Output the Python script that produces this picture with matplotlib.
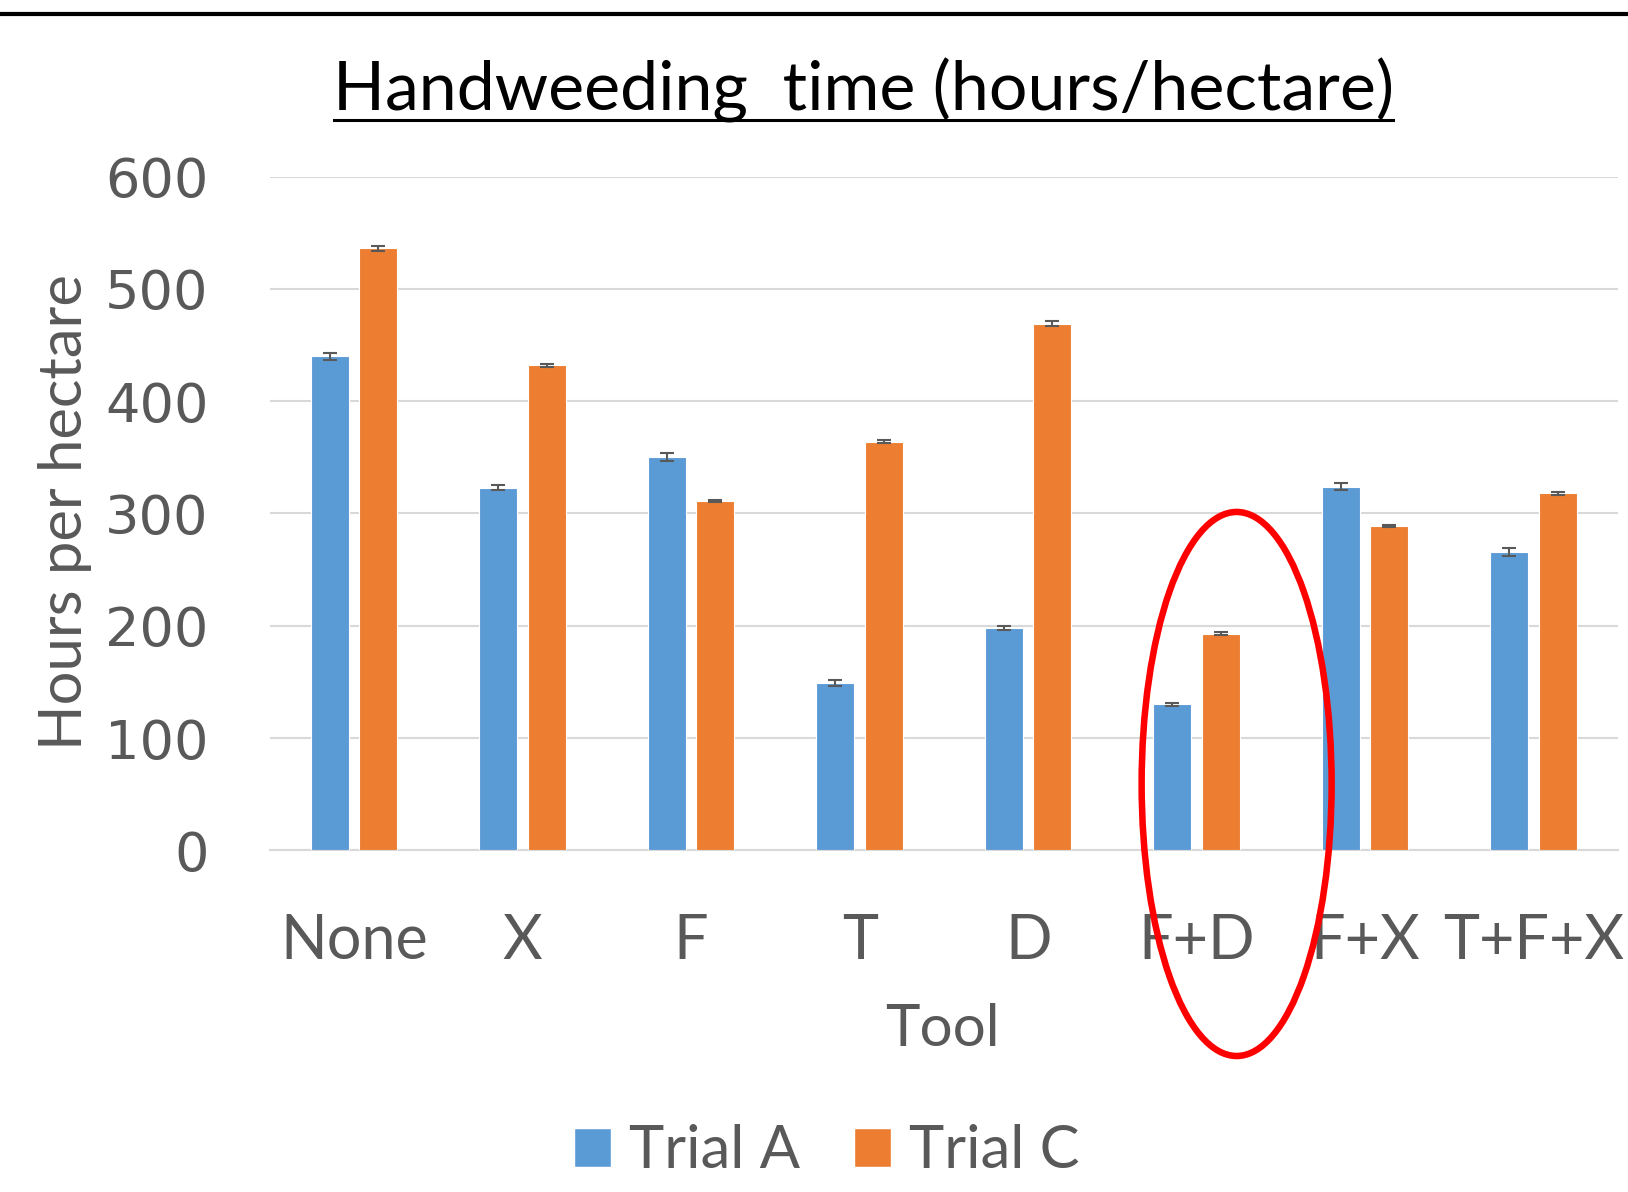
import numpy as np
import matplotlib
matplotlib.use("Agg")
import matplotlib.pyplot as plt
from matplotlib.patches import Patch, Ellipse
from matplotlib.lines import Line2D

# data
tools = ["None", "X", "F", "T", "D", "F+D", "F+X", "T+F+X"]
trial_a = [440, 323, 350, 149, 198, 130, 324, 266]
trial_c = [536, 432, 311, 364, 469, 193, 289, 318]
err_a = [3, 2.5, 3.5, 3, 1.5, 1.5, 3, 3.5]
err_c = [2, 1.5, 1, 1.5, 2.5, 1, 1, 1.5]

blue = "#5b9bd5"
orange = "#ed7d31"
grey = "#595959"
grid = "#d9d9d9"
font = ["Lato", "DejaVu Sans"]

fig = plt.figure(figsize=(16.28, 11.92), dpi=100)
ax = fig.add_axes([0.1658, 0.2866, 0.8280, 0.5653])

x = np.arange(len(tools))
w = 0.226
off = 0.144
ax.bar(x - off, trial_a, w, color=blue, edgecolor="white", linewidth=0.8, zorder=3)
ax.bar(x + off, trial_c, w, color=orange, edgecolor="white", linewidth=0.8, zorder=3)
ax.errorbar(x - off, trial_a, yerr=err_a, fmt="none", ecolor=grey, elinewidth=1.5,
            capsize=4.7, capthick=1.5, zorder=4)
ax.errorbar(x + off, trial_c, yerr=err_c, fmt="none", ecolor=grey, elinewidth=1.5,
            capsize=4.7, capthick=1.5, zorder=4)

ax.set_xlim(-0.5, len(tools) - 0.5)
ax.set_ylim(0, 600)
ax.set_yticks(range(0, 601, 100))
ax.yaxis.grid(True, color=grid, linewidth=1.5, zorder=0)
for s in ["top", "right", "left"]:
    ax.spines[s].set_visible(False)
ax.spines["bottom"].set_color(grid)
ax.spines["bottom"].set_linewidth(1.5)
ax.tick_params(axis="both", length=0)
ax.tick_params(axis="y", pad=44, labelsize=39, labelcolor=grey)
ax.tick_params(axis="x", pad=45, labelcolor=grey)
ax.set_xticks(x)
ax.set_xticklabels(tools, fontsize=44, family=font)
for t in ax.get_yticklabels():
    t.set_family("DejaVu Sans")

fig.text(0.0400, 0.570, "Hours per hectare", rotation=90, ha="center", va="center",
         fontsize=43, color=grey, family=font)
fig.text(0.579, 0.136, "Tool", ha="center", va="center", fontsize=42,
         color=grey, family=font)

# title with underline
fig.text(0.5307, 0.924, "Handweeding  time (hours/hectare)", ha="center", va="center",
         fontsize=49, color="black", family=font)
fig.add_artist(Line2D([334 / 1628, 1393 / 1628], [1 - 120 / 1192, 1 - 120 / 1192],
                      color="black", linewidth=2.2, transform=fig.transFigure))
# top rule
fig.add_artist(Line2D([0, 1], [1 - 13.5 / 1192, 1 - 13.5 / 1192], color="black",
                      linewidth=3, transform=fig.transFigure))

# red ellipse around F+D
fig.add_artist(Ellipse((0.7596, 0.3423), 0.1167, 0.4564, fill=False, edgecolor="red",
                       linewidth=4.7, transform=fig.transFigure))

handles = [Patch(facecolor=blue, edgecolor="white"), Patch(facecolor=orange, edgecolor="white")]
leg = fig.legend(handles, ["Trial A", "Trial C"], loc="center", bbox_to_anchor=(0.5077, 0.0342),
                 ncol=2, frameon=False, prop={"family": font, "size": 43},
                 handlelength=0.62, handleheight=0.62, handletextpad=0.3, columnspacing=0.9)
for t in leg.get_texts():
    t.set_color(grey)

fig.savefig("out.png", dpi=100)
